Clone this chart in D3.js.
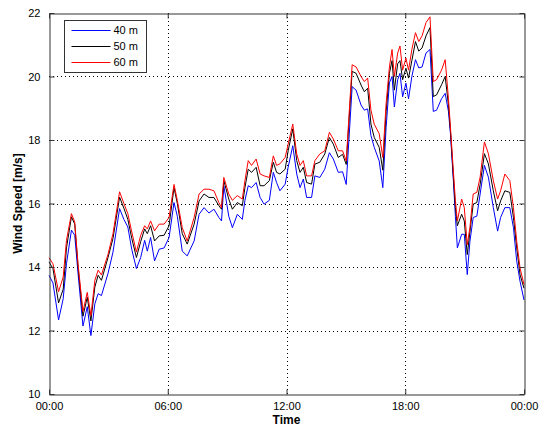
<!DOCTYPE html>
<html>
<head>
<meta charset="utf-8">
<script src="https://cdn.jsdelivr.net/npm/d3@7"></script>
<style>
  body { margin: 0; background: #fff; }
  svg { font-family: "Liberation Sans", Arial, sans-serif; }
</style>
</head>
<body>
<svg id="chart" width="540" height="428"></svg>
<script>
// times (HH:MM)
const times = [
  "00:00","00:12","00:29","00:43","00:53","01:08","01:18","01:28","01:43","01:56",
  "02:07","02:19","02:29","02:39","02:59","03:14","03:34","03:47","03:59","04:11",
  "04:25","04:38","04:50","04:58","05:08","05:20","05:34","05:49","06:04","06:19",
  "06:29","06:44","06:59","07:20","07:35","07:50","08:05","08:20","08:35","08:43",
  "08:50","09:05","09:16","09:31","09:46","09:54","10:04","10:14","10:28","10:40",
  "10:52","11:08","11:20","11:30","11:40","11:56","12:05","12:19","12:31","12:41",
  "12:51","13:01","13:16","13:26","13:41","13:56","14:10","14:22","14:37","14:50",
  "15:01","15:19","15:31","15:46","15:56","16:06","16:16","16:26","16:41","16:52",
  "17:02","17:12","17:20","17:27","17:37","17:44","17:52","18:02","18:10","18:20",
  "18:31","18:41","18:51","19:03","19:15","19:25","19:35","19:50","20:01","20:11",
  "20:17","20:26","20:32","20:38","20:51","20:59","21:08","21:16","21:26","21:37",
  "21:47","22:00","22:12","22:27","22:40","22:49","23:02","23:17","23:28","23:38",
  "23:48","24:00"
];

const speed40 = [
  13.74,13.5,12.33,13.0,14.1,15.16,15.0,13.8,12.14,12.75,
  11.84,12.84,13.16,13.1,13.8,14.47,15.84,15.5,15.26,14.55,
  13.95,14.3,14.84,14.5,14.93,14.19,14.56,14.6,14.93,16.03,
  15.6,14.5,14.35,14.82,15.66,15.87,15.7,15.82,15.56,15.45,
  16.56,15.6,15.24,15.66,15.5,16.1,16.56,16.5,16.66,16.19,
  15.98,16.1,16.98,16.66,16.4,16.61,17.14,17.82,16.93,16.5,
  16.77,16.19,16.19,16.87,16.82,17.08,17.6,17.4,16.98,17.0,
  16.6,19.68,19.57,19.1,18.94,18.98,18.14,17.77,17.34,16.5,
  18.4,19.8,20.0,19.04,19.9,20.1,19.36,19.79,19.3,20.0,
  20.53,20.27,20.3,20.74,20.85,18.9,18.94,19.3,19.47,18.9,
  18.2,16.7,15.6,14.6,15.03,15.03,13.76,14.8,15.56,15.6,
  16.3,17.2,16.83,15.87,15.13,15.56,15.87,15.87,15.24,14.18,
  13.55,12.96
];

const speed50 = [
  14.16,13.95,12.87,13.3,14.6,15.58,15.35,14.0,12.45,13.05,
  12.3,13.37,13.74,13.58,14.3,14.9,16.2,15.85,15.5,14.9,
  14.3,14.8,15.2,15.05,15.3,14.82,14.98,15.0,15.3,16.5,
  16.0,15.05,14.72,15.35,16.08,16.3,16.19,16.19,15.93,15.82,
  16.72,16.14,15.82,16.03,15.93,16.5,17.08,16.98,17.14,16.56,
  16.56,16.72,17.3,16.98,16.93,17.08,17.66,18.35,17.35,16.98,
  17.14,16.66,16.61,17.24,17.3,17.56,18.08,17.87,17.45,17.55,
  17.23,20.16,20.1,19.73,19.52,19.63,18.5,18.08,17.77,17.05,
  18.9,20.1,20.5,19.57,20.4,20.5,19.9,20.26,19.95,20.5,
  21.1,20.8,20.9,21.28,21.54,19.37,19.42,19.74,20.0,19.1,
  18.3,16.83,15.87,15.3,15.66,15.45,14.39,15.1,15.98,16.03,
  16.6,17.57,17.25,16.4,15.77,16.08,16.4,16.35,15.56,14.6,
  13.76,13.33
];

const speed60 = [
  14.29,14.1,13.22,13.68,14.84,15.68,15.42,14.1,12.6,13.2,
  12.47,13.58,13.9,13.75,14.4,15.05,16.37,16.0,15.68,15.1,
  14.47,15.0,15.3,15.2,15.45,15.14,15.35,15.35,15.56,16.6,
  16.1,15.24,14.82,15.56,16.3,16.45,16.45,16.4,16.03,15.87,
  16.82,16.3,16.1,16.25,16.14,16.72,17.35,17.2,17.4,16.93,
  16.87,16.82,17.5,17.2,17.25,17.45,17.87,18.5,17.56,17.2,
  17.35,16.87,16.87,17.35,17.56,17.66,18.24,18.03,17.66,17.66,
  17.34,20.37,20.3,20.0,19.84,19.95,18.94,18.5,18.2,17.45,
  19.15,20.3,20.85,20.0,20.74,20.96,20.2,20.58,20.2,20.85,
  21.38,21.1,21.28,21.7,21.88,19.84,19.9,20.2,20.53,19.3,
  18.4,17.0,16.1,15.45,16.14,15.87,14.7,15.24,16.3,16.35,
  16.83,17.94,17.57,16.72,16.14,16.4,16.93,16.72,15.87,14.8,
  13.97,13.44
];

const seriesNames = ["40 m", "50 m", "60 m"];
const seriesColors = ["#0000ff", "#000000", "#ff0000"];
const yTicks = [10, 12, 14, 16, 18, 20, 22];

const margin = { top: 13, right: 16, bottom: 34, left: 49 };
const W = 540, H = 428;
const svg = d3.select("#chart");

const toDate = s => {
  const p = s.split(":");
  return new Date(2000, 0, 1, +p[0], +p[1]);
};
const dates = times.map(toDate);
const t0 = new Date(2000, 0, 1, 0, 0), t1 = new Date(2000, 0, 2, 0, 0);

const x = d3.scaleTime().domain([t0, t1]).range([margin.left, W - margin.right]);
const y = d3.scaleLinear().domain([10, 22]).range([H - margin.bottom, margin.top]);

const x0 = margin.left, x1 = W - margin.right, y0 = H - margin.bottom, y1 = margin.top;
const xTicks = d3.timeHour.every(6).range(t0, d3.timeMinute.offset(t1, 1));

// grid
const grid = svg.append("g").attr("stroke", "#000").attr("stroke-dasharray", "1,3").attr("stroke-width", 1);
grid.selectAll("line.gx").data(xTicks.slice(1, -1)).enter().append("line")
  .attr("x1", d => Math.round(x(d)) + 0.5).attr("x2", d => Math.round(x(d)) + 0.5)
  .attr("y1", y0).attr("y2", y1);
grid.selectAll("line.gy").data(yTicks.slice(1, -1)).enter().append("line")
  .attr("y1", d => Math.round(y(d)) + 0.5).attr("y2", d => Math.round(y(d)) + 0.5)
  .attr("x1", x0).attr("x2", x1);

// lines
const line = vals => d3.line()
  .x((d, i) => x(dates[i]))
  .y(d => y(d))(vals);
[speed40, speed50, speed60].forEach((s, i) => {
  svg.append("path").attr("d", line(s))
    .attr("fill", "none").attr("stroke", seriesColors[i]).attr("stroke-width", 1);
});

// axes (inward ticks on all sides, MATLAB style)
const axL = svg.append("g").attr("transform", `translate(${x0 + 0.5},0)`)
  .call(d3.axisLeft(y).tickValues(yTicks).tickSizeInner(-5).tickSizeOuter(0).tickPadding(9));
const axR = svg.append("g").attr("transform", `translate(${x1 + 0.5},0)`)
  .call(d3.axisRight(y).tickValues(yTicks).tickSizeInner(-5).tickSizeOuter(0).tickFormat(""));
const axB = svg.append("g").attr("transform", `translate(0,${y0 + 0.5})`)
  .call(d3.axisBottom(x).tickValues(xTicks).tickFormat(d3.timeFormat("%H:%M"))
    .tickSizeInner(-5).tickSizeOuter(0).tickPadding(8));
const axT = svg.append("g").attr("transform", `translate(0,${y1 + 0.5})`)
  .call(d3.axisTop(x).tickValues(xTicks).tickSizeInner(-5).tickSizeOuter(0).tickFormat(""));
[axL, axR, axB, axT].forEach(a => {
  a.selectAll("path").attr("stroke", "#333");
  a.selectAll("line").attr("stroke", "#333");
  a.selectAll("text").attr("font-size", 11).attr("fill", "#000")
    .attr("font-family", "'Liberation Sans', Arial, sans-serif");
});
axL.selectAll("text").attr("dy", "0.32em");
axB.selectAll("text").attr("dy", "0.71em");

// axis titles
svg.append("text").attr("x", (x0 + x1) / 2).attr("y", 424)
  .attr("text-anchor", "middle").attr("font-weight", "bold").attr("font-size", 12).text("Time");
svg.append("text").attr("transform", `translate(22,${(y0 + y1) / 2}) rotate(-90)`)
  .attr("text-anchor", "middle").attr("font-weight", "bold").attr("font-size", 12).text("Wind Speed [m/s]");

// legend
const lg = svg.append("g").attr("transform", "translate(64.5,20.5)");
lg.append("rect").attr("width", 82).attr("height", 52)
  .attr("fill", "#fff").attr("stroke", "#333");
seriesNames.forEach((n, i) => {
  const yy = 10 + i * 16;
  lg.append("line").attr("x1", 7).attr("x2", 46).attr("y1", yy).attr("y2", yy)
    .attr("stroke", seriesColors[i]);
  lg.append("text").attr("x", 49).attr("y", yy).attr("dy", "0.35em")
    .attr("font-size", 11).text(n);
});
</script>
</body>
</html>
